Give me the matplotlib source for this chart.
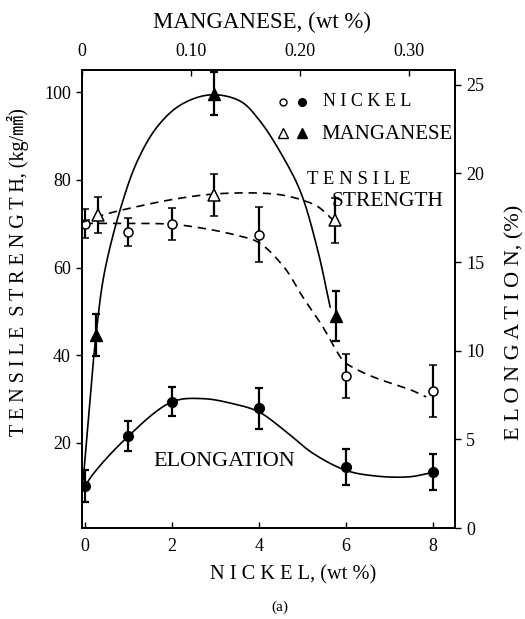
import numpy as np
import matplotlib
matplotlib.use("Agg")
import matplotlib.pyplot as plt

plt.rcParams['font.family'] = ['Liberation Serif', 'DejaVu Serif']

# ---- data ----
# Nickel additions (bottom axis, wt %)
ni_x = [0, 1, 2, 4, 6, 8]
ni_ts = [70.0, 68.1, 70.0, 67.5, 35.2, 31.9]          # tensile strength, kg/mm^2 (open circles)
ni_ts_err = [3.3, 3.2, 3.6, 6.3, 5.0, 6.0]
ni_el = [2.37, 5.17, 7.12, 6.75, 3.44, 3.16]          # elongation, % (filled circles)
ni_el_err = [0.9, 0.85, 0.82, 1.14, 1.0, 1.0]

# Manganese additions (top axis, wt %)
mn_x = [0.0144, 0.121, 0.232]
mn_ts = [72.0, 76.6, 70.8]                             # open triangles
mn_ts_err = [4.1, 4.8, 5.1]
mn_el_x = [0.013, 0.121, 0.233]
mn_el = [11.03, 24.5, 12.1]                            # filled triangles
mn_el_err = [1.15, 1.2, 1.4]

# Fitted curves
ni_ts_curve_x = [0, 1.0, 2.0, 2.7, 3.4, 4.0, 4.6, 5.0, 5.46, 5.75, 5.95, 6.2, 6.69, 7.46, 7.84]
ni_ts_curve_y = [70.1, 70.1, 69.9, 69.0, 67.6, 65.7, 59.8, 53.4, 46.6, 41.5, 38.6, 37.0, 34.8, 32.2, 30.5]

mn_ts_curve_x = [0.0, 0.0205, 0.0511, 0.0817, 0.1122, 0.1367, 0.164, 0.1826, 0.2009, 0.216, 0.23]
mn_ts_curve_y = [70.3, 72.1, 73.96, 75.5, 76.6, 77.0, 77.0, 76.6, 75.5, 73.96, 70.9]

ni_el_curve_x = [0, 0.16, 0.93, 2.0, 2.70, 3.39, 3.99, 4.62, 5.23, 6.0, 6.69, 7.46, 7.96]
ni_el_curve_y = [2.28, 2.93, 5.01, 7.11, 7.3, 7.02, 6.56, 5.44, 4.23, 3.25, 2.93, 2.89, 3.12]

mn_el_curve_x = [0.0, 0.0016, 0.0067, 0.0128, 0.0205, 0.0358, 0.0511, 0.0694, 0.0908, 0.118,
                 0.145, 0.163, 0.186, 0.2009, 0.216, 0.2275]
mn_el_curve_y = [2.3, 3.3, 7.0, 11.0, 14.5, 18.2, 20.8, 22.7, 23.9, 24.45,
                 24.1, 23.0, 20.8, 18.95, 15.8, 12.6]

ni_ticks = [0, 2, 4, 6, 8]
mn_ticks = [0, 0.10, 0.20, 0.30]
mn_ticklabels = ['0', '0.10', '0.20', '0.30']
ts_ticks = [20, 40, 60, 80, 100]
el_ticks = [0, 5, 10, 15, 20, 25]

# axis ranges
NI_LIM = (-0.06, 8.5)
MN_LIM = (0, 0.342)
TS_LIM = (0.6, 105.1)
EL_LIM = (0.25, 25.84)
W_PX, H_PX = 373.0, 458.0


def smooth(xs, ys, xlim, ylim, n=30):
    """Centripetal Catmull-Rom spline through traced points (computed in pixel space)."""
    sx = W_PX / (xlim[1] - xlim[0])
    sy = H_PX / (ylim[1] - ylim[0])
    p = np.column_stack([np.asarray(xs, float) * sx, np.asarray(ys, float) * sy])
    p = np.vstack([2 * p[0] - p[1], p, 2 * p[-1] - p[-2]])
    out = []
    for i in range(1, len(p) - 2):
        P0, P1, P2, P3 = p[i - 1], p[i], p[i + 1], p[i + 2]
        t0 = 0.0
        t1 = t0 + np.linalg.norm(P1 - P0) ** 0.5 + 1e-9
        t2 = t1 + np.linalg.norm(P2 - P1) ** 0.5 + 1e-9
        t3 = t2 + np.linalg.norm(P3 - P2) ** 0.5 + 1e-9
        t = np.linspace(t1, t2, n, endpoint=False)[:, None]
        A1 = (t1 - t) / (t1 - t0) * P0 + (t - t0) / (t1 - t0) * P1
        A2 = (t2 - t) / (t2 - t1) * P1 + (t - t1) / (t2 - t1) * P2
        A3 = (t3 - t) / (t3 - t2) * P2 + (t - t2) / (t3 - t2) * P3
        B1 = (t2 - t) / (t2 - t0) * A1 + (t - t0) / (t2 - t0) * A2
        B2 = (t3 - t) / (t3 - t1) * A2 + (t - t1) / (t3 - t1) * A3
        C = (t2 - t) / (t2 - t1) * B1 + (t - t1) / (t2 - t1) * B2
        out.append(C)
    out.append(p[-2][None, :])
    out = np.vstack(out)
    return out[:, 0] / sx, out[:, 1] / sy


fig = plt.figure(figsize=(5.25, 6.19), dpi=100)
ax = fig.add_axes([0.1562, 0.147, 0.7105, 0.740])
ax.set_xlim(*NI_LIM)
ax.set_ylim(*TS_LIM)

ax_el = ax.twinx()          # right axis: elongation
ax_el.set_ylim(*EL_LIM)
ax_mn = ax.twiny()          # top axis: manganese
ax_mn.set_xlim(*MN_LIM)
ax_mn.set_ylim(*TS_LIM)
ax_mn_el = ax_mn.twinx()    # manganese vs elongation
ax_mn_el.set_ylim(*EL_LIM)
ax_mn_el.set_axis_off()

lw = 1.2
dash = (0, (5, 3.5))
ebkw = dict(elinewidth=1.6, capsize=3.2, capthick=1.6, ecolor='black', linestyle='none')

# Nickel tensile strength
cx, cy = smooth(ni_ts_curve_x, ni_ts_curve_y, NI_LIM, TS_LIM)
ax.plot(cx, cy, color='black', lw=lw, linestyle=dash)
ax.errorbar(ni_x, ni_ts, yerr=ni_ts_err, marker='o', ms=6.5, mfc='white', mec='black', mew=1.1, **ebkw)

# Nickel elongation
cx, cy = smooth(ni_el_curve_x, ni_el_curve_y, NI_LIM, EL_LIM)
ax_el.plot(cx, cy, color='black', lw=lw)
ax_el.errorbar(ni_x, ni_el, yerr=ni_el_err, marker='o', ms=7, mfc='black', mec='black', **ebkw)

# Manganese tensile strength
cx, cy = smooth(mn_ts_curve_x, mn_ts_curve_y, MN_LIM, TS_LIM)
ax_mn.plot(cx, cy, color='black', lw=lw, linestyle=dash)
ax_mn.errorbar(mn_x, mn_ts, yerr=mn_ts_err, marker='^', ms=8, mfc='white', mec='black', mew=1.1, **ebkw)

# Manganese elongation
cx, cy = smooth(mn_el_curve_x, mn_el_curve_y, MN_LIM, EL_LIM)
ax_mn_el.plot(cx, cy, color='black', lw=lw)
ax_mn_el.errorbar(mn_el_x, mn_el, yerr=mn_el_err, marker='^', ms=8, mfc='black', mec='black', **ebkw)

# ---- axes formatting ----
fs = 13
ax.set_xticks(ni_ticks)
ax.set_xticklabels([str(t) for t in ni_ticks], fontsize=fs)
ax.set_yticks(ts_ticks)
ax.set_yticklabels([str(t) for t in ts_ticks], fontsize=fs)
ax.tick_params(axis='x', direction='in', length=4, width=1, pad=7, top=False)
ax.tick_params(axis='y', direction='out', length=4, width=1, pad=4)

ax_el.set_yticks(el_ticks)
ax_el.set_yticklabels([str(t) for t in el_ticks], fontsize=fs)
ax_el.tick_params(axis='y', direction='out', length=4, width=1, pad=4)

ax_mn.set_xticks(mn_ticks)
ax_mn.set_xticklabels(mn_ticklabels, fontsize=fs)
ax_mn.tick_params(axis='x', direction='in', length=4, width=1, pad=7)

for a in (ax, ax_el, ax_mn):
    for s in a.spines.values():
        s.set_linewidth(1.1)

fig.text(293 / 525, 1 - 575 / 619, 'N I C K E L, (wt %)', ha='center', va='center', fontsize=14.7)
fig.text(262 / 525, 1 - 22 / 619, 'MANGANESE, (wt %)', ha='center', va='center', fontsize=16.5)
fig.text(18 / 525, 1 - 272 / 619, 'T E N S I L E  S T R E N G T H, (kg/㎟)', ha='center', va='center',
         rotation=90, fontsize=14.5, family=['Liberation Serif', 'Noto Sans CJK JP', 'DejaVu Sans'])
fig.text(515 / 525, 1 - 322 / 619, 'E L O N G A T I O N, (%)', ha='center', va='center',
         rotation=90, fontsize=16)
fig.text(280 / 525, 1 - 607 / 619, '(a)', ha='center', va='center', fontsize=11)

# legend-like annotations
ax.plot([0.539], [0.931], marker='o', ms=5, mfc='white', mec='black', transform=ax.transAxes)
ax.plot([0.589], [0.931], marker='o', ms=5.5, mfc='black', mec='black', transform=ax.transAxes)
ax.text(0.646, 0.931, 'N I C K E L', transform=ax.transAxes, fontsize=13, va='center', ha='left')
ax.plot([0.539], [0.862], marker='^', ms=6.5, mfc='white', mec='black', transform=ax.transAxes)
ax.plot([0.589], [0.862], marker='^', ms=6.5, mfc='black', mec='black', transform=ax.transAxes)
ax.text(0.643, 0.858, 'MANGANESE', transform=ax.transAxes, fontsize=15, va='center', ha='left')
ax.text(0.602, 0.760, 'T E N S I L E', transform=ax.transAxes, fontsize=13.5, va='center', ha='left')
ax.text(0.669, 0.712, 'STRENGTH', transform=ax.transAxes, fontsize=15.5, va='center', ha='left')
ax.text(0.191, 0.145, 'ELONGATION', transform=ax.transAxes, fontsize=16, va='center', ha='left')

fig.savefig('out.png', dpi=100)
